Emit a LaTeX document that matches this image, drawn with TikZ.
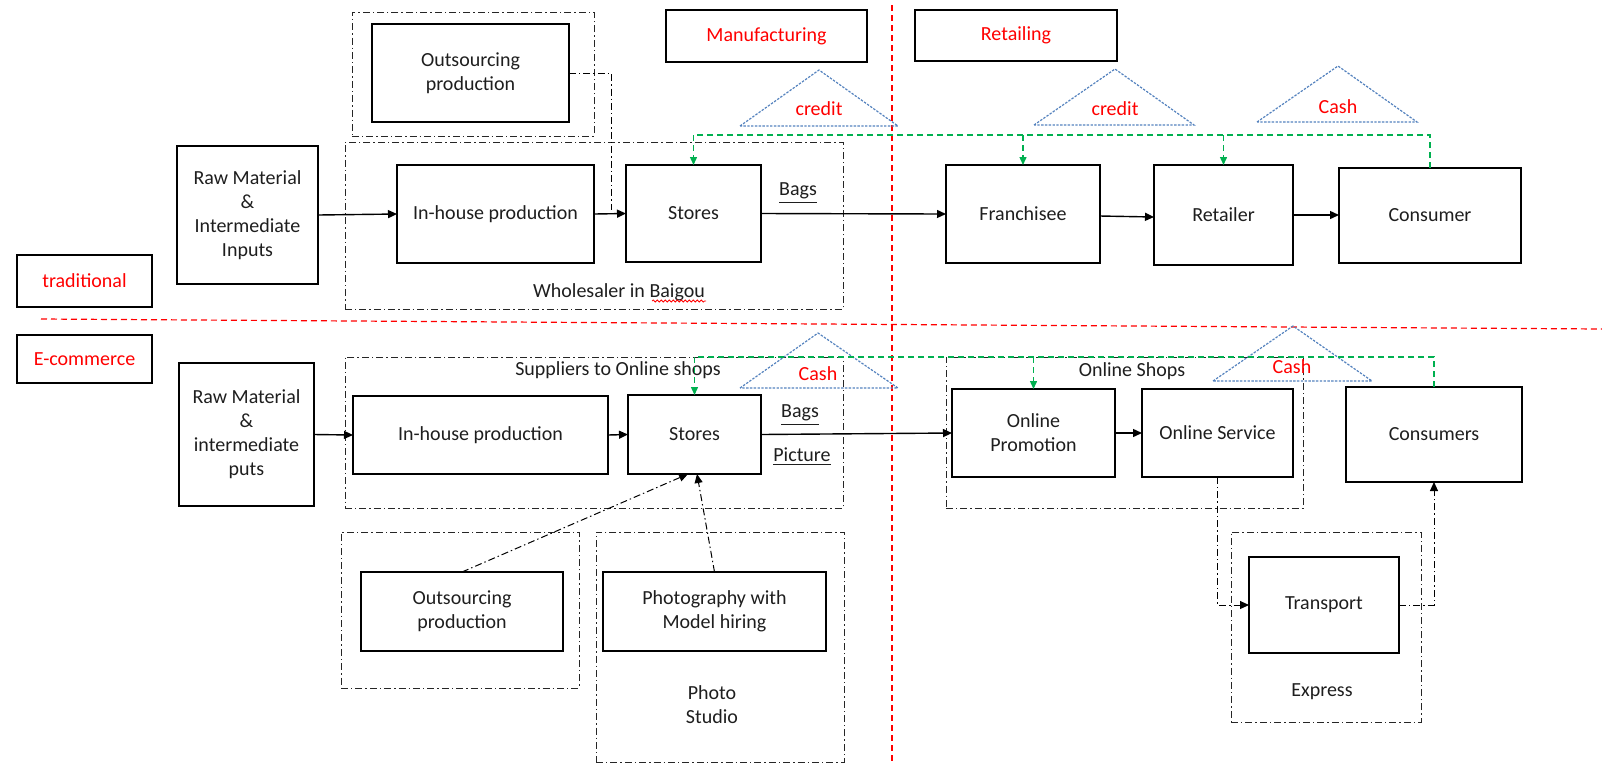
\documentclass[tikz,border=0pt]{standalone}
\usepackage{fontspec}
\setmainfont{Carlito}
\usetikzlibrary{arrows.meta,decorations.pathmorphing,calc}
\definecolor{myred}{RGB}{255,0,0}
\definecolor{mygreen}{RGB}{0,176,80}
\definecolor{myblue}{RGB}{84,130,190}
\definecolor{mytext}{RGB}{30,30,30}
\begin{document}
\begin{tikzpicture}[x=0.5pt,y=-0.5pt,
  font=\fontsize{10pt}{12pt}\selectfont,
  box/.style={draw, line width=0.75pt, inner sep=0pt, outer sep=0pt, align=center, text=mytext},
  ddbox/.style={draw=black!85, line width=0.5pt, dash pattern=on 3.5pt off 1.5pt on 0.7pt off 1.5pt, inner sep=0pt, outer sep=0pt},
  ddline/.style={line width=0.5pt, dash pattern=on 3.5pt off 1.5pt on 0.7pt off 1.5pt},
  arr/.style={line width=0.7pt, -{Triangle[length=4.5pt,width=4pt]}},
  ddarr/.style={ddline, -{Triangle[length=4.5pt,width=4pt]}},
  redline/.style={draw=myred, line width=0.6pt, dash pattern=on 3pt off 2pt},
  gline/.style={draw=mygreen, line width=0.7pt, dash pattern=on 3pt off 2pt},
  garr/.style={gline, -{Triangle[length=4pt,width=3.5pt]}},
  tri/.style={draw=myblue, line width=0.6pt, dash pattern=on 1.2pt off 0.7pt},
  redtext/.style={text=myred, inner sep=0pt},
  lbl/.style={inner sep=0pt, align=center, text=mytext}
]
\useasboundingbox (0,0) rectangle (1602,773);

% ---------- section labels ----------
\node[box, minimum width=67.5pt, minimum height=26pt, text=myred] (trad) at (84.5,281) {traditional};
\node[box, minimum width=67.5pt, minimum height=24pt, text=myred] (ecom) at (84.5,359) {E-commerce};
\node[box, minimum width=100.5pt, minimum height=26pt, text=myred] (manuf) at (766.5,36) {Manufacturing};
\node[box, minimum width=101pt, minimum height=25.5pt, text=myred] (retail) at (1016,35.5) {Retailing};

% ---------- separators ----------
\coordinate (vtop) at (892,5);
\coordinate (vbot) at (892,762);
\coordinate (hleft) at (41,319);
\coordinate (hright) at (1602,329);
\draw[redline] (vtop) -- (vbot);
\draw[redline] (hleft) -- (hright);

% ---------- traditional row ----------
\node[ddbox, minimum width=121pt, minimum height=62pt] (outTopOuter) at (473,74) {};
\node[box, minimum width=98.5pt, minimum height=49pt] (outTop) at (470.5,73) {Outsourcing\\production};
\node[ddbox, minimum width=249pt, minimum height=83.5pt] (whole) at (594,225.5) {};
\node[lbl] (wholelbl) at (619,292) {Wholesaler in Baigou};
\draw[myred, line width=0.4pt, decorate, decoration={snake, amplitude=0.5pt, segment length=2pt}] (652,301) -- (706,301);

\node[box, minimum width=70.5pt, minimum height=69pt] (raw1) at (247.5,215) {Raw Material\\\&\\Intermediate\\Inputs};
\node[box, minimum width=98.5pt, minimum height=49pt] (in1) at (495.5,214) {In-house production};
\node[box, minimum width=67.5pt, minimum height=48.5pt] (st1) at (693.5,213.5) {Stores};
\node[box, minimum width=77pt, minimum height=49pt] (fran) at (1023,214) {Franchisee};
\node[box, minimum width=69.5pt, minimum height=50pt] (ret) at (1223.5,215) {Retailer};
\node[box, minimum width=91pt, minimum height=47.5pt] (con) at (1430,215.5) {Consumer};
\node[lbl] (bags1) at (798,193) {\underline{Bags}};

\draw[arr] (raw1.east) -- (in1.west);
\draw[arr] (in1.east) -- (st1.west);
\draw[arr] (st1.east) -- (fran.west);
\draw[arr] ([yshift=-1pt]fran.east) -- ([yshift=-1pt]ret.west);
\draw[arr] (ret.east) -- (con.west |- ret.east);

\coordinate (oj) at (611,210);
\draw[ddline] (outTop.east) -| (oj);

% triangles
\coordinate (t1a) at (740,126); \coordinate (t1b) at (819,70); \coordinate (t1c) at (898,126);
\draw[tri] (t1a) -- (t1b) -- (t1c) -- cycle;
\node[redtext] (cr1) at (819,109) {credit};
\coordinate (t2a) at (1034,125); \coordinate (t2b) at (1115,69); \coordinate (t2c) at (1194,125);
\draw[tri] (t2a) -- (t2b) -- (t2c) -- cycle;
\node[redtext] (cr2) at (1115,109) {credit};
\coordinate (t3a) at (1257,122); \coordinate (t3b) at (1338,66); \coordinate (t3c) at (1417,122);
\draw[tri] (t3a) -- (t3b) -- (t3c) -- cycle;
\node[redtext] (cash1) at (1338,107) {Cash};

% green payment line
\draw[gline] (con.north) -- (con.north |- 0,135) -- (st1.north |- 0,135);
\draw[garr] (st1.north |- 0,135) -- (st1.north);
\draw[garr] (fran.north |- 0,135) -- (fran.north);
\draw[garr] (ret.north |- 0,135) -- (ret.north);

% ---------- e-commerce row ----------
\node[ddbox, minimum width=249pt, minimum height=75.5pt] (supp) at (594,432.5) {};
\node[lbl] (supplbl) at (618,370) {Suppliers to Online shops};
\node[ddbox, minimum width=178.5pt, minimum height=75.5pt] (shops) at (1124.5,432.5) {};
\node[lbl] (shopslbl) at (1132,371) {Online Shops};

\node[box, minimum width=67.5pt, minimum height=71.5pt] (raw2) at (246.5,434.5) {Raw Material\\\&\\intermediate\\puts};
\node[box, minimum width=127.5pt, minimum height=39pt] (in2) at (480.5,435) {In-house production};
\node[box, minimum width=66.5pt, minimum height=39.5pt] (st2) at (694.5,434.5) {Stores};
\node[box, minimum width=81.5pt, minimum height=44pt] (promo) at (1033.5,433) {Online\\Promotion};
\node[box, minimum width=75.5pt, minimum height=44pt] (serv) at (1217.5,433) {Online Service};
\node[box, minimum width=88pt, minimum height=47.5pt] (cons) at (1434,434.5) {Consumers};
\node[lbl] (bags2) at (800,415) {\underline{Bags}};
\node[lbl] (pic) at (802,457) {\underline{Picture}};

\draw[arr] (raw2.east) -- (in2.west);
\draw[arr] (in2.east) -- (st2.west);
\draw[arr] (st2.east) -- (promo.west);
\draw[arr] (promo.east) -- (serv.west);

\coordinate (t4a) at (740,388); \coordinate (t4b) at (818,333); \coordinate (t4c) at (898,388);
\draw[tri] (t4a) -- (t4b) -- (t4c) -- cycle;
\node[redtext] (cash2) at (818,374) {Cash};
\coordinate (t5a) at (1213,381); \coordinate (t5b) at (1293,326); \coordinate (t5c) at (1372,381);
\draw[tri] (t5a) -- (t5b) -- (t5c) -- cycle;
\node[redtext] (cash3) at (1292,367) {Cash};

\draw[gline] (cons.north) -- (cons.north |- 0,357) -- (st2.north |- 0,357);
\draw[garr] (st2.north |- 0,357) -- (st2.north);
\draw[garr] (promo.north |- 0,357) -- (promo.north);

% lower boxes
\node[ddbox, minimum width=119pt, minimum height=78pt] (out2outer) at (460,610) {};
\node[box, minimum width=101pt, minimum height=39.5pt] (out2) at (462,611.5) {Outsourcing\\production};
\node[ddbox, minimum width=124pt, minimum height=115pt] (studio) at (720,647) {};
\node[box, minimum width=111.5pt, minimum height=39.5pt] (photo) at (714.5,611.5) {Photography with\\Model hiring};
\node[lbl] (studiolbl) at (712,705) {Photo\\Studio};

\draw[ddarr] (out2.north) -- ([xshift=-3.25pt]st2.south);
\draw[ddarr] (photo.north) -- ([xshift=1.25pt]st2.south);

\node[ddbox, minimum width=95pt, minimum height=95pt] (express) at (1326,627) {};
\node[box, minimum width=75pt, minimum height=48pt] (trans) at (1324,605) {Transport};
\node[lbl] (exprlbl) at (1322,692) {Express};

\draw[ddarr] (serv.south) |- (trans.west);
\draw[ddarr] (trans.east) -| (cons.south);
\end{tikzpicture}
\end{document}
